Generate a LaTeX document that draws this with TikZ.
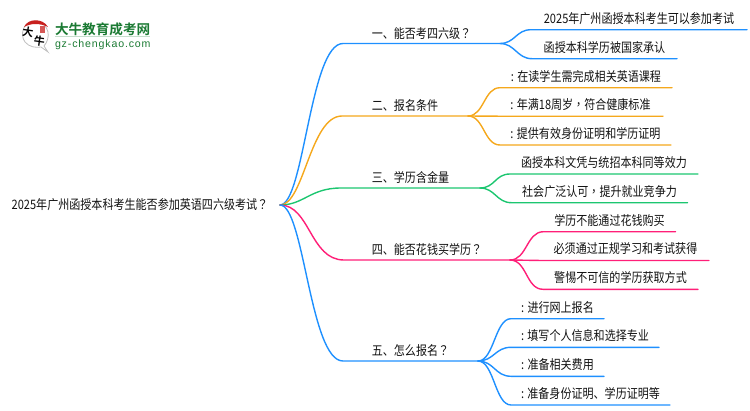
\documentclass[tikz,border=0pt]{standalone}
\usepackage{fontspec}
\setmainfont{Noto Sans CJK SC}[FakeStretch=0.85]
\newfontfamily\puncfont{Noto Sans CJK TC}[FakeStretch=0.85]
\newfontfamily\logofont{Noto Sans CJK SC}[BoldFont={* Bold}]
\newfontfamily\urlfont{Liberation Sans}[LetterSpace=8]
\newcommand{\wen}{{\puncfont ？}}
\newcommand{\dou}{{\puncfont ，}}
\definecolor{lineblue}{HTML}{1E90FF}
\definecolor{lineorange}{HTML}{F5A81C}
\definecolor{linegreen}{HTML}{1CC670}
\definecolor{linepink}{HTML}{FF1F78}
\definecolor{textgrey}{HTML}{111111}
\definecolor{logogreen}{HTML}{1B7A33}
\definecolor{logored}{HTML}{C8201E}

\begin{document}
\begin{tikzpicture}[x=1pt,y=-1pt,font=\fontsize{13}{15}\selectfont,text=textgrey,
    every node/.style={inner sep=0pt,outer sep=0pt},
    branch/.style={anchor=south west,text height=9pt,text depth=5.5pt,align=center},
    leaf/.style={anchor=south west,text height=9pt,text depth=6.7pt,align=center},
    wire/.style={line width=1.4pt,line cap=round}]
  \useasboundingbox (0,0) rectangle (750,410);

  % logo
  \draw[black!25,line width=.8pt,fill=white] (44,46)
    .. controls (51,38) and (50,24) .. (36,21)
    .. controls (24,20) and (19,34) .. (25,42)
    .. controls (29,47) and (36,48) .. (41,47) -- (48,52) -- cycle;
  \fill[logored] (24,27) .. controls (28,18) and (43,18) .. (48,27)
    .. controls (40,23) and (31,23) .. (24,27) -- cycle;
  \fill[logored!75] (40,26) rectangle (45,33);
  \node[font=\logofont\bfseries\fontsize{11}{11}\selectfont,text=black,rotate=-8] (logoda) at (28,32.5) {大};
  \node[font=\logofont\bfseries\fontsize{11}{11}\selectfont,text=black,rotate=-8] (logoniu) at (39.5,41) {牛};
  \node[anchor=west,font=\logofont\bfseries\fontsize{13.6}{14}\selectfont,text=logogreen] (logoname) at (55,29.5) {大牛教育成考网};
  \node[anchor=west,font=\urlfont\fontsize{10.6}{11}\selectfont,text=logogreen] (logourl) at (55,45) {gz-chengkao.com};
  \draw[logogreen!25,line width=.7pt] (logoname.south west) -- (logoname.south east);

  \node[minimum width=280pt,text height=8pt,text depth=0pt] (root) at (140,205) {2025年广州函授本科考生能否参加英语四六级考试\wen};

  \node[branch,minimum width=157pt] (one) at (343,43.5) {一、能否考四六级\wen};
  \node[branch,minimum width=126pt] (two) at (342,116) {二、报名条件};
  \node[branch,minimum width=139pt] (three) at (341,188) {三、学历含金量};
  \node[branch,minimum width=166pt] (four) at (344,260) {四、能否花钱买学历\wen};
  \node[branch,minimum width=135pt] (five) at (343,361) {五、怎么报名\wen};

  \node[leaf,minimum width=216pt] (one1) at (531,29.7) {2025年广州函授本科考生可以参加考试};
  \node[leaf,minimum width=145pt] (one2) at (532,58.7) {函授本科学历被国家承认};

  \node[leaf,minimum width=172pt] (two1) at (500,87.7) {: 在读学生需完成相关英语课程};
  \node[leaf,minimum width=165pt] (two2) at (498,116.2) {: 年满18周岁\dou 符合健康标准};
  \node[leaf,minimum width=171pt] (two3) at (500,145) {: 提供有效身份证明和学历证明};

  \node[leaf,minimum width=188pt] (three1) at (510,174) {函授本科文凭与统招本科同等效力};
  \node[leaf,minimum width=176pt] (three2) at (511.5,202.7) {社会广泛认可\dou 提升就业竞争力};

  \node[leaf,minimum width=132pt] (four1) at (543.5,231.7) {学历不能通过花钱购买};
  \node[leaf,minimum width=167pt] (four2) at (542,260.5) {必须通过正规学习和考试获得};
  \node[leaf,minimum width=155pt] (four3) at (543,289.3) {警惕不可信的学历获取方式};

  \node[leaf,minimum width=93pt] (five1) at (511,318.7) {: 进行网上报名};
  \node[leaf,minimum width=148pt] (five2) at (511,347.3) {: 填写个人信息和选择专业};
  \node[leaf,minimum width=93pt] (five3) at (511,376.3) {: 准备相关费用};
  \node[leaf,minimum width=159pt] (five4) at (511,405) {: 准备身份证明、学历证明等};

  \draw[wire,lineblue] (root.east) .. controls (304,205) and (310,43.5) .. (one.south west) -- (one.south east);
  \draw[wire,lineorange] (root.east) .. controls (304,205) and (310,116) .. (two.south west) -- (two.south east);
  \draw[wire,linegreen] (root.east) .. controls (304,205) and (310,188) .. (three.south west) -- (three.south east);
  \draw[wire,linepink] (root.east) .. controls (310,205) and (310,260) .. (four.south west) -- (four.south east);
  \draw[wire,lineblue] (root.east) .. controls (304,205) and (310,361) .. (five.south west) -- (five.south east);

  \draw[wire,lineblue] (one.south east) .. controls +(15,0) and +(-15,0) .. (one1.south west) -- (one1.south east);
  \draw[wire,lineblue] (one.south east) .. controls +(15,0) and +(-15,0) .. (one2.south west) -- (one2.south east);

  \draw[wire,lineorange] (two.south east) .. controls +(16,0) and +(-16,0) .. (two1.south west) -- (two1.south east);
  \draw[wire,lineorange] (two.south east) -- (two2.south west) -- (two2.south east);
  \draw[wire,lineorange] (two.south east) .. controls +(16,0) and +(-16,0) .. (two3.south west) -- (two3.south east);

  \draw[wire,linegreen] (three.south east) .. controls +(15,0) and +(-15,0) .. (three1.south west) -- (three1.south east);
  \draw[wire,linegreen] (three.south east) .. controls +(15,0) and +(-15,0) .. (three2.south west) -- (three2.south east);

  \draw[wire,linepink] (four.south east) .. controls +(17,0) and +(-17,0) .. (four1.south west) -- (four1.south east);
  \draw[wire,linepink] (four.south east) -- (four2.south west) -- (four2.south east);
  \draw[wire,linepink] (four.south east) .. controls +(17,0) and +(-17,0) .. (four3.south west) -- (four3.south east);

  \draw[wire,lineblue] (five.south east) .. controls +(16,0) and +(-16,0) .. (five1.south west) -- (five1.south east);
  \draw[wire,lineblue] (five.south east) .. controls +(16,0) and +(-16,0) .. (five2.south west) -- (five2.south east);
  \draw[wire,lineblue] (five.south east) .. controls +(16,0) and +(-16,0) .. (five3.south west) -- (five3.south east);
  \draw[wire,lineblue] (five.south east) .. controls +(16,0) and +(-16,0) .. (five4.south west) -- (five4.south east);
\end{tikzpicture}
\end{document}
